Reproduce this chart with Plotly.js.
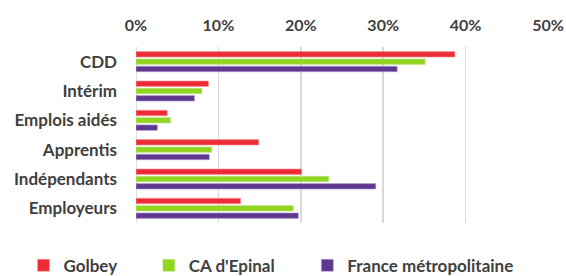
<!DOCTYPE html>
<html>
<head>
<meta charset="utf-8">
<script src="https://cdn.plot.ly/plotly-3.0.1.min.js"></script>
<style>html,body{margin:0;padding:0;background:#fff;}#chart{width:566px;height:276px;}</style>
</head>
<body>
<div id="chart"></div>
<script>
const categories = ["CDD", "Intérim", "Emplois aidés", "Apprentis", "Indépendants", "Employeurs"];
const seriesNames = ["Golbey", "CA d'Epinal", "France métropolitaine"];
const golbey = [0.387, 0.088, 0.038, 0.149, 0.201, 0.127];
const caEpinal = [0.351, 0.080, 0.042, 0.092, 0.234, 0.191];
const france = [0.317, 0.071, 0.026, 0.089, 0.291, 0.197];
const tickVals = [0, 0.1, 0.2, 0.3, 0.4, 0.5];
const tickText = ["0%", "10%", "20%", "30%", "40%", "50%"];

const colors = ["#EE2C35", "#92D422", "#5E3891"];
const lineColors = ["#F3A0A4", "#C8EA93", "#B7A3CF"];
const values = [golbey, caEpinal, france];
const legendIds = ["legend", "legend2", "legend3"];
const font = {family: "Lato, 'Open Sans', sans-serif", size: 17, color: "#404040", weight: "bold"};
const tickFont = Object.assign({}, font, {size: 16});

const data = values.map((v, i) => ({
  type: "bar",
  orientation: "h",
  name: seriesNames[i],
  x: v,
  y: categories,
  marker: {color: colors[i], line: {color: lineColors[i], width: 0.6}},
  legend: legendIds[i],
  hoverinfo: "skip"
}));

const legendBase = {
  orientation: "h", yanchor: "middle", xanchor: "left",
  xref: "container", yref: "container", y: 0.037,
  font: font, bgcolor: "rgba(0,0,0,0)", borderwidth: 0, itemwidth: 30
};

const layout = {
  width: 566, height: 276,
  margin: {l: 136, r: 18, t: 47, b: 53, autoexpand: false},
  paper_bgcolor: "#fff", plot_bgcolor: "#fff",
  barmode: "group", bargap: 0.25, bargroupgap: 0.25,
  font: font,
  showlegend: true,
  xaxis: {
    side: "top", range: [0, 0.5], tickvals: tickVals, ticktext: tickText,
    showgrid: true, gridcolor: "#D9D9D9", gridwidth: 1.6,
    zeroline: false, showline: false, ticks: "", ticklabelstandoff: 12,
    tickfont: tickFont, fixedrange: true, automargin: false
  },
  yaxis: {
    autorange: "reversed", showgrid: false, zeroline: false, showline: false,
    ticks: "", ticklabelstandoff: 18, tickfont: font, fixedrange: true, automargin: false
  },
  shapes: [{type: "line", xref: "x", yref: "paper", x0: 0, x1: 0, y0: 0, y1: 1,
            line: {color: "#D9D9D9", width: 1.6}, layer: "below"}],
  legend: Object.assign({}, legendBase, {x: 0.0415}),
  legend2: Object.assign({}, legendBase, {x: 0.263}),
  legend3: Object.assign({}, legendBase, {x: 0.543})
};

Plotly.newPlot("chart", data, layout, {displayModeBar: false, staticPlot: true});
</script>
</body>
</html>
